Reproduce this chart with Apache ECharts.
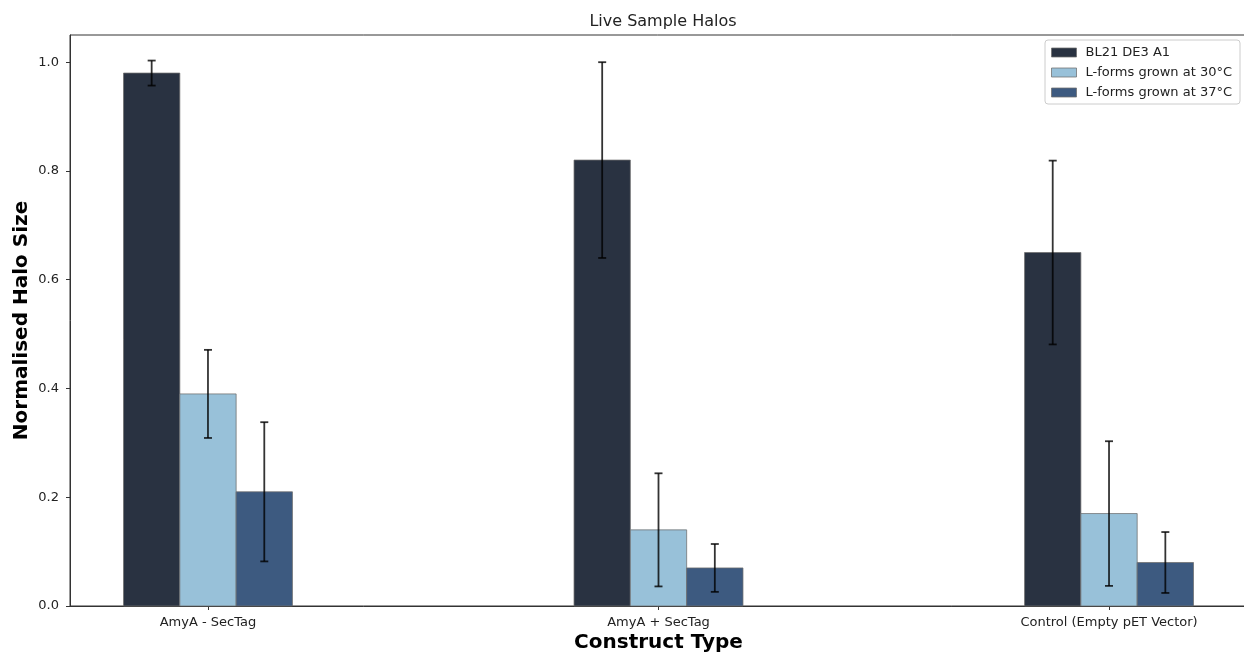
<!DOCTYPE html>
<html>
<head>
<meta charset="utf-8">
<title>Live Sample Halos</title>
<script src="https://cdn.jsdelivr.net/npm/echarts@6/dist/echarts.min.js"></script>
<style>
  html, body { margin: 0; padding: 0; background: #ffffff; }
  #chart { width: 1244px; height: 654px; }
</style>
</head>
<body>
<div id="chart"></div>
<script>
// Construct types along the x axis
const categories = ['AmyA - SecTag', 'AmyA + SecTag', 'Control (Empty pET Vector)'];

// Series names
const seriesNames = ['BL21 DE3 A1', 'L-forms grown at 30°C', 'L-forms grown at 37°C'];

// Mean normalised halo sizes
const bl21Values = [0.98, 0.82, 0.65];
const lforms30Values = [0.39, 0.14, 0.17];
const lforms37Values = [0.21, 0.07, 0.08];

// Error bar half-lengths
const bl21Errors = [0.023, 0.18, 0.169];
const lforms30Errors = [0.081, 0.104, 0.133];
const lforms37Errors = [0.128, 0.044, 0.056];

// Y axis tick values
const yTicks = [0, 0.2, 0.4, 0.6, 0.8, 1.0];

const seriesValues = [bl21Values, lforms30Values, lforms37Values];
const seriesErrors = [bl21Errors, lforms30Errors, lforms37Errors];
const colors = ['#293241', '#98C1D9', '#3D5A80'];

const barWidth = 0.125;
const offsets = [-barWidth, 0, barWidth];
const xMin = -1.5 * barWidth - 0.05 * (2 + 3 * barWidth);
const xMax = 2 + 1.5 * barWidth + 0.05 * (2 + 3 * barWidth);

const FONT = 'DejaVu Sans';

function barRender(params, api) {
  const x = api.value(0);
  const v = api.value(1);
  const top = api.coord([x - barWidth / 2, v]);
  const base = api.coord([x + barWidth / 2, 0]);
  return {
    type: 'rect',
    shape: { x: top[0], y: top[1], width: base[0] - top[0], height: base[1] - top[1] },
    style: { fill: api.visual('color'), stroke: 'rgba(110,110,110,0.75)', lineWidth: 1 }
  };
}

function errRender(params, api) {
  const x = api.value(0);
  const v = api.value(1);
  const e = api.value(2);
  const hi = api.coord([x, v + e]);
  const lo = api.coord([x, v - e]);
  const cap = 4;
  const stroke = { stroke: 'rgba(0,0,0,0.8)', lineWidth: 1.8 };
  return {
    type: 'group',
    children: [
      { type: 'line', shape: { x1: hi[0], y1: hi[1], x2: lo[0], y2: lo[1] }, style: stroke },
      { type: 'line', shape: { x1: hi[0] - cap, y1: hi[1], x2: hi[0] + cap, y2: hi[1] }, style: stroke },
      { type: 'line', shape: { x1: lo[0] - cap, y1: lo[1], x2: lo[0] + cap, y2: lo[1] }, style: stroke }
    ]
  };
}

const series = [];
seriesNames.forEach((name, i) => {
  const data = seriesValues[i].map((v, c) => [c + offsets[i], v]);
  series.push({
    name: name,
    type: 'custom',
    renderItem: barRender,
    itemStyle: { color: colors[i], borderColor: 'rgba(110,110,110,0.75)', borderWidth: 1 },
    encode: { x: 0, y: 1 },
    data: data,
    z: 2
  });
});
seriesNames.forEach((name, i) => {
  const data = seriesValues[i].map((v, c) => [c + offsets[i], v, seriesErrors[i][c]]);
  series.push({
    name: name + ' error',
    type: 'custom',
    renderItem: errRender,
    encode: { x: 0, y: [1] },
    data: data,
    z: 3,
    silent: true
  });
});

const chart = echarts.init(document.getElementById('chart'), null, { renderer: 'canvas' });
chart.setOption({
  animation: false,
  backgroundColor: '#ffffff',
  title: {
    text: 'Live Sample Halos',
    left: 658,
    textAlign: 'center',
    top: 9,
    textStyle: { fontFamily: FONT, fontSize: 16, fontWeight: 'normal', color: '#222' }
  },
  legend: {
    data: seriesNames,
    orient: 'vertical',
    left: 1045,
    top: 40,
    padding: [6, 8, 5, 6],
    itemWidth: 25,
    itemHeight: 9,
    itemGap: 7,
    icon: 'rect',
    borderColor: '#cccccc',
    borderWidth: 1,
    borderRadius: 3,
    itemStyle: { borderColor: 'rgba(110,110,110,0.75)', borderWidth: 1 },
    textStyle: { fontFamily: FONT, fontSize: 13, lineHeight: 13, color: '#222', padding: [0, 0, 0, 4] }
  },
  grid: {
    left: 70,
    top: 35,
    width: 1177,
    height: 571,
    outerBoundsMode: 'none',
    containLabel: false,
    show: true,
    borderColor: '#333',
    borderWidth: 1,
    backgroundColor: 'transparent'
  },
  xAxis: {
    type: 'value',
    min: xMin,
    max: xMax,
    splitLine: { show: false },
    axisLine: { show: true, onZero: false, lineStyle: { color: '#333', width: 1 } },
    axisTick: { show: true, customValues: [0, 1, 2], length: 4, lineStyle: { color: '#333' } },
    axisLabel: {
      customValues: [0, 1, 2],
      formatter: (v) => categories[Math.round(v)],
      fontFamily: FONT, fontSize: 13, color: '#222', margin: 10
    },
    name: 'Construct Type',
    nameLocation: 'middle',
    nameGap: 27,
    nameMoveOverlap: false,
    nameTextStyle: { fontFamily: FONT, fontSize: 20, fontWeight: 'bold', color: '#000' }
  },
  yAxis: {
    type: 'value',
    min: 0,
    max: 1.05,
    splitLine: { show: false },
    axisLine: { show: true, onZero: false, lineStyle: { color: '#333', width: 1 } },
    axisTick: { show: true, customValues: yTicks, length: 4, lineStyle: { color: '#333' } },
    axisLabel: {
      customValues: yTicks,
      formatter: (v) => v.toFixed(1),
      fontFamily: FONT, fontSize: 13, color: '#222', margin: 11
    },
    name: 'Normalised Halo Size',
    nameLocation: 'middle',
    nameGap: 38,
    nameMoveOverlap: false,
    nameTextStyle: { fontFamily: FONT, fontSize: 20, fontWeight: 'bold', color: '#000' }
  },
  series: series
});
</script>
</body>
</html>
